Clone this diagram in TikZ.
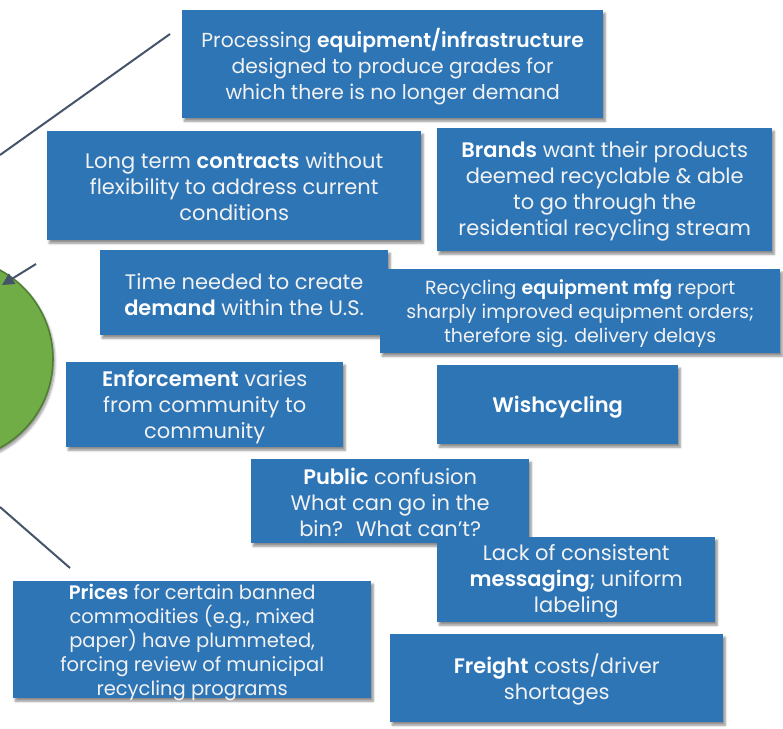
\documentclass[tikz,border=0pt]{standalone}
\usepackage{fontspec}
\setmainfont{Poppins}[BoldFont={Poppins SemiBold}]
\usetikzlibrary{shadows,shadows.blur,arrows.meta}
\definecolor{boxblue}{HTML}{2E75B6}
\definecolor{linegray}{HTML}{44546A}
\definecolor{hubgreen}{HTML}{70AD47}
\definecolor{hubedge}{HTML}{507E32}
\definecolor{txt}{HTML}{F2F2F2}
\tikzset{
  card/.style={fill=boxblue, draw=none, inner sep=0pt, anchor=north west,
    blur shadow={shadow xshift=2pt, shadow yshift=-3pt, shadow blur steps=6, shadow opacity=45}},
  cardtext/.style={text=txt, align=center, inner sep=0pt, font=\fontsize{21}{26}\selectfont},
  connector/.style={draw=linegray, line width=2pt},
}
\newcommand{\hb}[1]{{\bfseries\color{white}#1}}
\begin{document}
\begin{tikzpicture}[x=1pt,y=-1pt]
\useasboundingbox (0,0) rectangle (783,728);
% hub circle
\node[circle, fill=hubgreen, draw=hubedge, line width=1.6pt, minimum size=202pt, inner sep=0pt,
  blur shadow={shadow xshift=2pt, shadow yshift=-3pt, shadow blur steps=6, shadow opacity=40}] (hub) at (-48,359) {};
% connectors
\coordinate (l1a) at (0,155);
\coordinate (l1b) at (170,34);
\coordinate (l2a) at (36,264);
\coordinate (l2b) at (2,285);
\coordinate (l3a) at (0,507);
\coordinate (l3b) at (70,568);
\draw[connector] (l1a) -- (l1b);
\draw[connector, -{Triangle[length=12pt, width=12pt]}] (l2a) -- (l2b);
\draw[connector] (l3a) -- (l3b);
% boxes
\node[card, minimum width=421pt, minimum height=108pt] (b1) at (182,10) {};
\node[cardtext, font=\fontsize{20.3}{26}\selectfont] (t1) at ([yshift=-2pt]b1.center)
  {Processing \hb{equipment/infrastructure}\\designed to produce grades for\\which there is no longer demand};
\node[card, minimum width=374pt, minimum height=109pt] (b2) at (47,131) {};
\node[cardtext] (t2) at ([yshift=-0.5pt]b2.center)
  {Long term \hb{contracts} without\\flexibility to address current\\conditions};
\node[card, minimum width=335pt, minimum height=123pt] (b3) at (437,128) {};
\node[cardtext] (t3) at ([yshift=-2pt]b3.center)
  {\hb{Brands} want their products\\deemed recyclable \& able\\to go through the\\residential recycling stream};
\node[card, minimum width=288pt, minimum height=85pt] (b4) at (100,250) {};
\node[cardtext] (t4) at ([yshift=-1.5pt]b4.center)
  {Time needed to create\\\hb{demand} within the U.S.};
\node[card, minimum width=400pt, minimum height=84pt] (b5) at (380,269) {};
\node[cardtext, font=\fontsize{19}{24}\selectfont] (t5) at ([yshift=-2pt]b5.center)
  {Recycling \hb{equipment mfg} report\\sharply improved equipment orders;\\therefore sig. delivery delays};
\node[card, minimum width=277pt, minimum height=85pt] (b6) at (66,362) {};
\node[cardtext] (t6) at ([yshift=-2.5pt]b6.center)
  {\hb{Enforcement} varies\\from community to\\community};
\node[card, minimum width=241pt, minimum height=79pt] (b7) at (437,365) {};
\node[cardtext] (t7) at ([yshift=-2.5pt]b7.center)
  {\hb{Wishcycling}};
\node[card, minimum width=278pt, minimum height=84pt] (b8) at (251,459) {};
\node[cardtext] (t8) at ([yshift=-1pt]b8.center)
  {\hb{Public} confusion\\What can go in the\\bin?~ What can’t?};
\node[card, minimum width=278pt, minimum height=85pt] (b9) at (437,537) {};
\node[cardtext] (t9) at ([yshift=-1.5pt]b9.center)
  {Lack of consistent\\\hb{messaging}; uniform\\labeling};
\node[card, minimum width=358pt, minimum height=117pt] (b10) at (13,581) {};
\node[cardtext, font=\fontsize{19.5}{24}\selectfont] (t10) at ([yshift=-2.5pt]b10.center)
  {\hb{Prices} for certain banned\\commodities (e.g., mixed\\paper) have plummeted,\\forcing review of municipal\\recycling programs};
\node[card, minimum width=333pt, minimum height=88pt] (b11) at (390,634) {};
\node[cardtext] (t11) at ([yshift=-1pt]b11.center)
  {\hb{Freight} costs/driver\\shortages};
\end{tikzpicture}
\end{document}
